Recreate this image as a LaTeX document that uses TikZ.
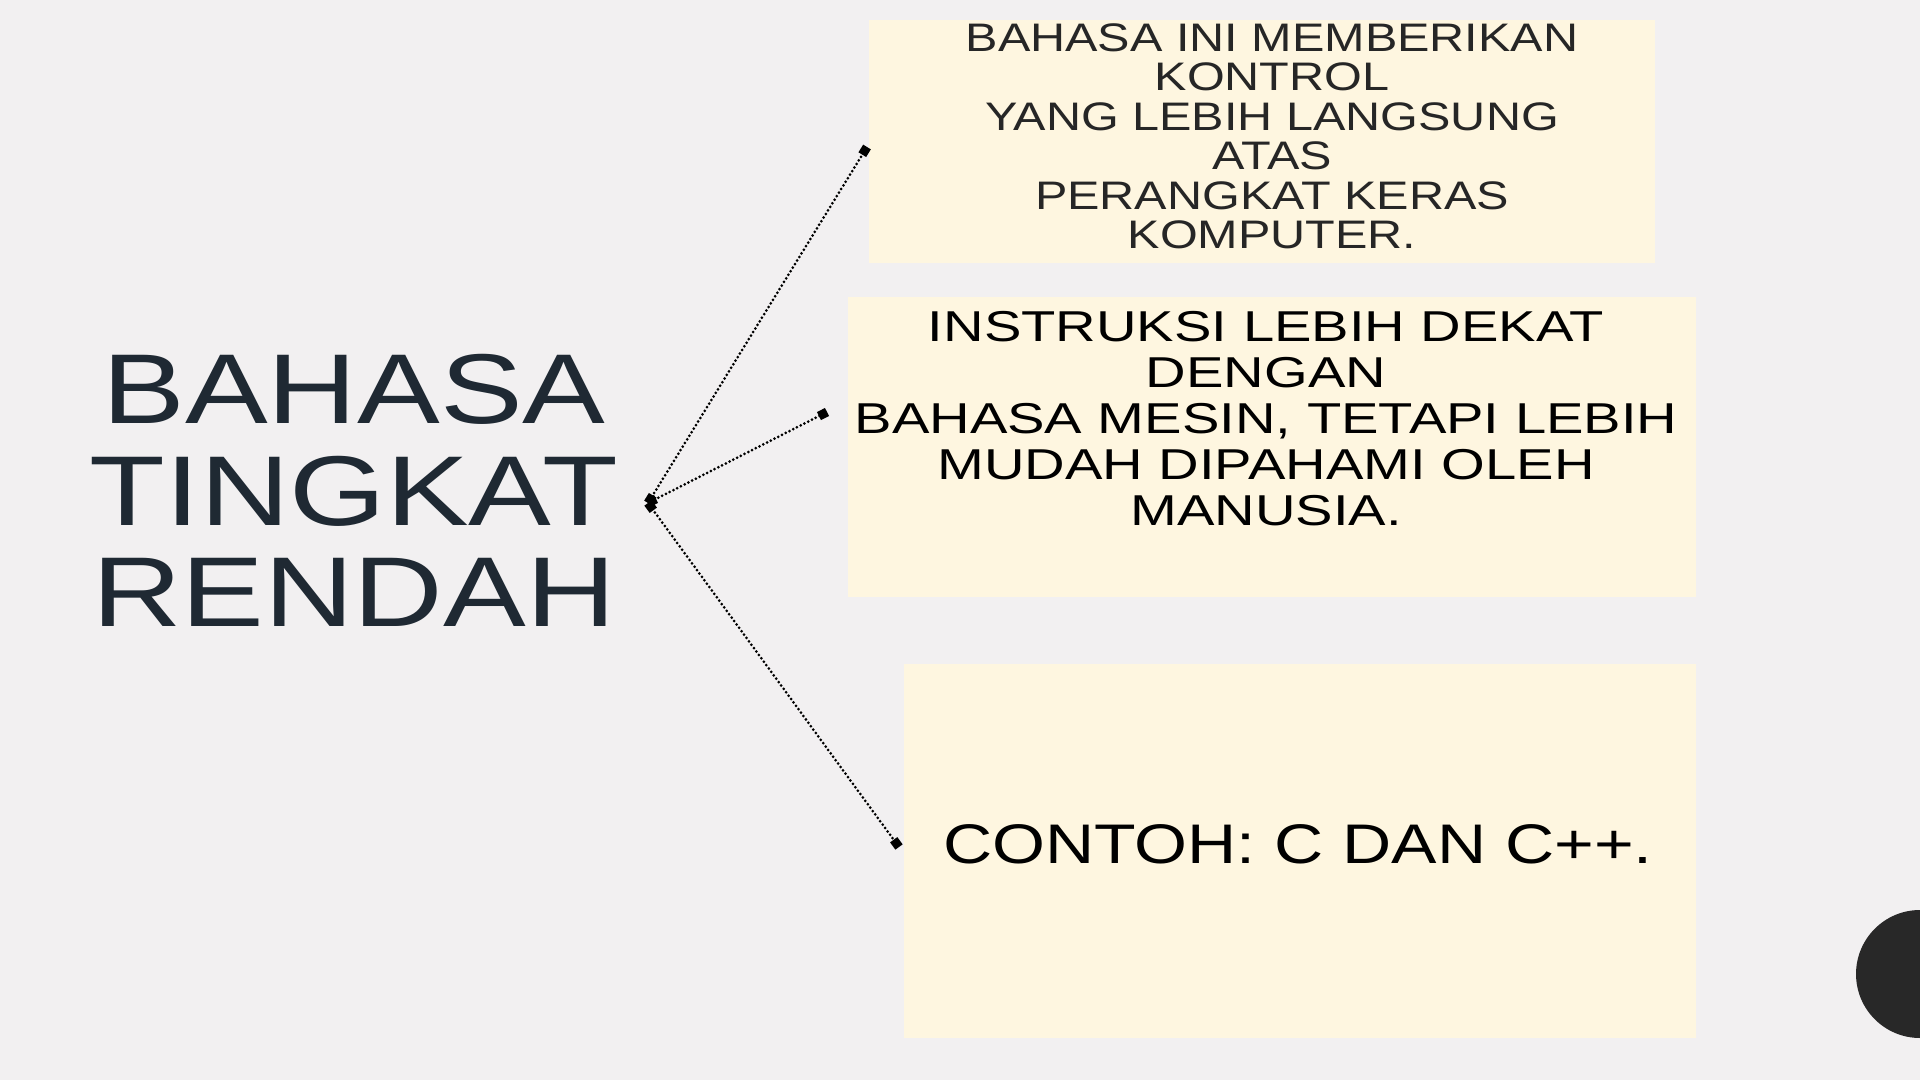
\documentclass[tikz,border=0pt]{standalone}
\usepackage{fontspec}
\usetikzlibrary{arrows.meta}
\newfontfamily\headfont[FakeStretch=1.25]{Liberation Sans}
\newfontfamily\bodyfont[FakeStretch=1.22]{Liberation Sans}
\newfontfamily\widefont[FakeStretch=1.3]{Liberation Sans}
\definecolor{slidebg}{RGB}{242,240,241}
\definecolor{cream}{RGB}{254,246,224}
\definecolor{navy}{RGB}{31,41,51}
\definecolor{ink}{RGB}{38,38,38}
\definecolor{blob}{RGB}{40,40,40}
\begin{document}
\begin{tikzpicture}[x=0.5pt,y=-0.5pt,
  panel/.style={fill=cream, inner sep=0pt, anchor=north west},
  link/.style={line width=1.5pt, line cap=round, dash pattern=on 0pt off 2.1pt,
    {Square[length=4.5pt,width=4.5pt]}-{Square[length=4.5pt,width=4.5pt]}}]
\useasboundingbox (0,0) rectangle (1920,1080);
\fill[slidebg] (0,0) rectangle (1920,1080);

% dark half circle at right edge
\fill[blob] (1920,974) circle[radius=32pt];

% boxes
\node[panel, minimum width=393pt, minimum height=121.5pt] (box1) at (869,20) {};
\node[panel, minimum width=424pt, minimum height=150pt] (box2) at (848,297) {};
\node[panel, minimum width=396pt, minimum height=187pt] (box3) at (904,664) {};

% title
\node[anchor=north, inner sep=0pt, align=center, text=navy,
  font=\headfont\fontsize{49.6pt}{50.75pt}\selectfont] (title) at (354,354)
  {BAHASA\\TINGKAT\\RENDAH};

% box texts
\node[anchor=north, inner sep=0pt, align=center, text=ink,
  font=\bodyfont\fontsize{19.9pt}{19.75pt}\selectfont] (txt1) at (1272,23)
  {BAHASA INI MEMBERIKAN\\KONTROL\\YANG LEBIH LANGSUNG\\ATAS\\PERANGKAT KERAS\\KOMPUTER.};
\node[anchor=north, inner sep=0pt, align=center, text=black,
  font=\widefont\fontsize{21.6pt}{23pt}\selectfont] (txt2) at (1266,311)
  {INSTRUKSI LEBIH DEKAT\\DENGAN\\BAHASA MESIN, TETAPI LEBIH\\MUDAH DIPAHAMI OLEH\\MANUSIA.};
\node[anchor=base, inner sep=0pt, text=black,
  font=\bodyfont\fontsize{27.9pt}{30pt}\selectfont] (txt3) at (1298,863)
  {CONTOH: C DAN C++.};

% dotted links
\coordinate (hub) at (648,503);
\coordinate (end1) at (867,147);
\coordinate (end2) at (827,412);
\coordinate (end3) at (899,847);
\draw[link] (hub) -- (end1);
\draw[link] (hub) -- (end2);
\draw[link] (hub) -- (end3);

\end{tikzpicture}
\end{document}
